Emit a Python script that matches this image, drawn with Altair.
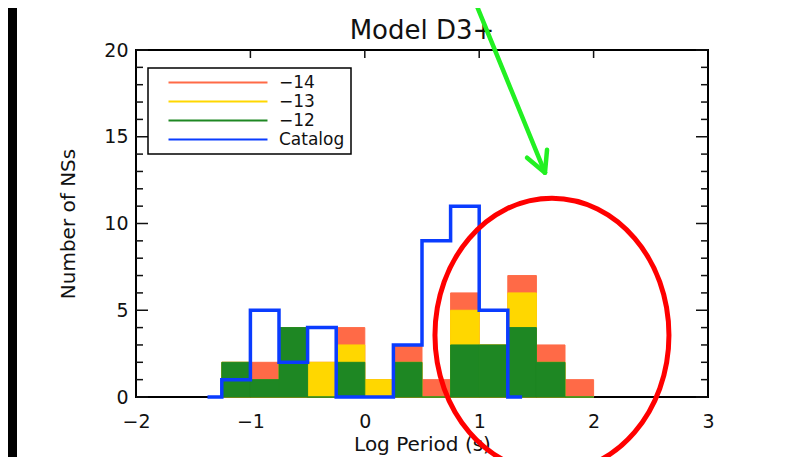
import altair as alt
import pandas as pd

# ---------------- data ----------------
bin_start = [-1.25, -1.0, -0.75, -0.5, -0.25, 0.0, 0.25, 0.5, 0.75, 1.0, 1.25, 1.5, 1.75]
bin_width = 0.25
n_m14 = [2, 2, 4, 2, 4, 1, 3, 1, 6, 3, 7, 3, 1]
n_m13 = [2, 1, 4, 2, 3, 1, 2, 0, 5, 3, 6, 2, 0]
n_m12 = [2, 1, 4, 0, 2, 0, 2, 0, 3, 3, 4, 2, 0]
catalog_x = [-1.375, -1.25, -1.0, -0.75, -0.5, -0.25, 0.0, 0.25, 0.5, 0.75, 1.0, 1.25, 1.375]
catalog_n = [0, 1, 5, 2, 4, 0, 0, 3, 9, 11, 5, 0, 0]

series_names = ["\u221214", "\u221213", "\u221212", "Catalog"]
series_colors = ["#FF6A47", "#FFD700", "#1E8723", "#0A3CFF"]

x_ticks = [-2, -1, 0, 1, 2, 3]
x_top_ticks = [-1, 0, 1, 2]
y_ticks = [0, 5, 10, 15, 20]
y_minor = [v for v in range(1, 20) if v % 5]

title_text = ["Model D3+"]

# annotations (data coordinates)
ellipse_center = [1.636, 3.56]
arrow_x0 = [0.92, 1.418, 1.593]
arrow_y0 = [23.5, 13.79, 14.25]
arrow_x1 = [1.575, 1.575, 1.575]
arrow_y1 = [12.93, 12.93, 12.93]

FONT = "DejaVu Sans"
TXT = "#111"
W, H = 572, 347

# ---------------- tables ----------------
rows = []
for k, vals in enumerate([n_m14, n_m13, n_m12]):
    for s, v in zip(bin_start, vals):
        rows.append({"series": series_names[k], "x0": s, "x1": s + bin_width, "n": v, "k": k})
bars_df = pd.DataFrame(rows)
cat_df = pd.DataFrame({"x": catalog_x, "n": catalog_n, "series": "Catalog"})

xscale = alt.Scale(domain=[-2, 3], nice=False, zero=False)
yscale = alt.Scale(domain=[0, 20], nice=False, zero=False)
cscale = alt.Scale(domain=series_names, range=series_colors)

X_AX = alt.Axis(
    values=x_ticks, title="Log Period (s)", grid=False, ticks=False, tickSize=0,
    domain=False, labelFontSize=19, labelFont=FONT, labelColor=TXT,
    labelPadding=15, labelFlush=False, labelOverlap=False,
    titleFont=FONT, titleFontSize=20, titleFontWeight="normal", titleColor=TXT,
    titleX=W / 2, titleY=47, titleBaseline="middle", titleAlign="center")
Y_AX = alt.Axis(
    values=y_ticks, title="Number of NSs", grid=False, ticks=False, tickSize=0,
    domain=False, labelFontSize=19, labelFont=FONT, labelColor=TXT,
    labelPadding=8, labelFlush=False, labelOverlap=False,
    titleFont=FONT, titleFontSize=20, titleFontWeight="normal", titleColor=TXT,
    titleX=-68, titleY=H / 2, titleAngle=270, titleBaseline="middle", titleAlign="center")

# long horizontal line symbol (drawn wider than the legend's nominal symbol size)
LINE_SYMBOL = "M -7.07 0 L 7.07 0"
LEG = alt.Legend(
    title=None, orient="none", legendX=12, legendY=18,
    symbolType=LINE_SYMBOL, symbolSize=196, symbolStrokeWidth=2, symbolOffset=55.5,
    labelFontSize=17, labelFont=FONT, labelColor=TXT, labelOffset=52.5,
    rowPadding=1, padding=6, strokeColor="black",
)


def X(f):
    return alt.X(f, scale=xscale, axis=X_AX)


def Y(f, **kw):
    return alt.Y(f, scale=yscale, axis=Y_AX, **kw)


bars = alt.Chart(bars_df).mark_bar(strokeWidth=1).encode(
    x=X("x0:Q"), x2="x1:Q",
    y=Y("n:Q", stack=None), y2=alt.datum(0),
    fill=alt.Fill("series:N", scale=cscale, legend=LEG),
    stroke=alt.Stroke("series:N", scale=cscale, legend=LEG),
    order=alt.Order("k:Q"),
)

catalog = alt.Chart(cat_df).mark_line(interpolate="step-after", strokeWidth=3.5).encode(
    x=X("x:Q"), y=Y("n:Q"),
    stroke=alt.Stroke("series:N", scale=cscale, legend=LEG),
)

ymaj_df = pd.DataFrame({"v": y_ticks})
ymin_df = pd.DataFrame({"v": y_minor})
xtop_df = pd.DataFrame({"v": x_top_ticks})


def yticks(df, length, right):
    x0 = W if right else 0
    x1 = W - length if right else length
    return alt.Chart(df).mark_rule(color=TXT, strokeWidth=1.5).encode(
        y=Y("v:Q"), x=alt.value(x0), x2=alt.value(x1))


tick_layers = [
    yticks(ymaj_df, 12, False), yticks(ymin_df, 7, False),
    yticks(ymaj_df, 12, True), yticks(ymin_df, 7, True),
    alt.Chart(xtop_df).mark_rule(color=TXT, strokeWidth=1.5).encode(
        x=X("v:Q"), y=alt.value(0), y2=alt.value(8)),
]

title = alt.Chart(pd.DataFrame({"t": title_text})).mark_text(
    font=FONT, fontSize=26, color=TXT, align="center", baseline="alphabetic"
).encode(text="t:N", x=alt.value(W / 2), y=alt.value(-11))

ell_path = "M -0.854 0 A 0.854 1 0 1 1 0.854 0 A 0.854 1 0 1 1 -0.854 0 Z"
ellipse = alt.Chart(pd.DataFrame({"x": [ellipse_center[0]], "y": [ellipse_center[1]]})).mark_point(
    shape=ell_path, size=274 ** 2, filled=False, stroke="#FF0000", strokeWidth=5, opacity=1
).encode(x=X("x:Q"), y=Y("y:Q"))

arrow = alt.Chart(pd.DataFrame({"x0": arrow_x0, "y0": arrow_y0, "x1": arrow_x1, "y1": arrow_y1})).mark_rule(
    color="#22F022", strokeWidth=4.5, strokeCap="round"
).encode(x=X("x0:Q"), y=Y("y0:Q"), x2="x1:Q", y2="y1:Q")

strip = alt.Chart(pd.DataFrame({"a": [0]})).mark_rect(color="black").encode(
    x=alt.value(-128), x2=alt.value(-119), y=alt.value(-42), y2=alt.value(H + 60))

chart = alt.layer(bars, catalog, *tick_layers, title, ellipse, arrow, strip).properties(
    width=W, height=H,
    autosize="none",
    padding={"left": 128, "top": 42, "right": 85, "bottom": 60},
    background="white",
).configure_view(stroke="black", strokeWidth=2).configure_legend(strokeWidth=1.5)

chart.save("out.html", embed_options={"renderer": "svg", "actions": False})
